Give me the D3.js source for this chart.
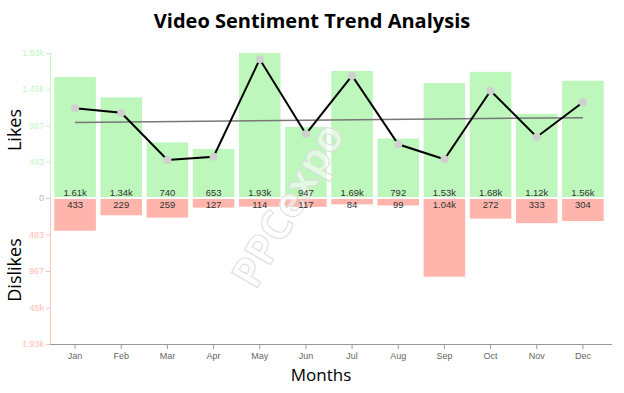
<!DOCTYPE html>
<html><head><meta charset="utf-8">
<script src="https://cdn.jsdelivr.net/npm/d3@7"></script>
<style>body{margin:0;background:#fff}svg{display:block}</style>
</head><body>
<svg id="c" width="624" height="393"></svg>
<script>
const months = ["Jan","Feb","Mar","Apr","May","Jun","Jul","Aug","Sep","Oct","Nov","Dec"];
const likes = [1610,1340,740,653,1930,947,1690,792,1530,1680,1120,1560];
const dislikes = [433,229,259,127,114,117,84,99,1040,272,333,304];
const likeLabels = ["1.61k","1.34k","740","653","1.93k","947","1.69k","792","1.53k","1.68k","1.12k","1.56k"];
const dislikeLabels = ["433","229","259","127","114","117","84","99","1.04k","272","333","304"];
const net = [1194,1135,506,550,1846,852,1628,715,515,1428,812,1274];
const likeTicks = [0,482.5,965,1447.5,1930];
const likeTickLabels = ["0","483","987","1.45k","1.93k"];
const dislikeTicks = [482.5,965,1447.5,1930];
const dislikeTickLabels = ["483","967","45k","1.93k"];

const svg = d3.select("#c");
const x = d3.scaleBand().domain(months).range([52,606]).paddingInner(0.1).paddingOuter(0.05);
const yL = d3.scaleLinear().domain([0,1930]).range([198,53]);
const yD = d3.scaleLinear().domain([0,1930]).range([198,344]);
const font = "'Liberation Sans', Arial, sans-serif";

// bars
svg.append("g").selectAll("rect").data(months).join("rect")
  .attr("x", d=>x(d)).attr("width", x.bandwidth())
  .attr("y", (d,i)=>yL(likes[i])).attr("height",(d,i)=>yL(0)-1-yL(likes[i]))
  .attr("fill","#bdf7bb");
svg.append("g").selectAll("rect").data(months).join("rect")
  .attr("x", d=>x(d)).attr("width", x.bandwidth())
  .attr("y", yD(0)+1).attr("height",(d,i)=>yD(dislikes[i])-yD(0)-1)
  .attr("fill","#ffb5ab");

// watermark
svg.append("text").attr("transform","translate(288,205) rotate(-60)")
  .attr("text-anchor","middle").attr("dy","0.35em").attr("font-family","'Open Sans', sans-serif")
  .attr("font-weight","bold").attr("font-size",42)
  .attr("fill","#fff").attr("fill-opacity",0.55).attr("stroke","#ddd").attr("stroke-width",1).text("PPCexpo");

// bar labels
svg.append("g").selectAll("text").data(months).join("text")
  .attr("x", d=>x(d)+x.bandwidth()/2).attr("y", 196)
  .attr("text-anchor","middle").attr("font-family",font).attr("font-size",9.5).attr("fill","#333")
  .text((d,i)=>likeLabels[i]);
svg.append("g").selectAll("text").data(months).join("text")
  .attr("x", d=>x(d)+x.bandwidth()/2).attr("y", 208)
  .attr("text-anchor","middle").attr("font-family",font).attr("font-size",9.5).attr("fill","#333")
  .text((d,i)=>dislikeLabels[i]);

// left axes
svg.append("line").attr("x1",50.5).attr("x2",50.5).attr("y1",yL(1930)).attr("y2",yL(0)).attr("stroke","#c8f7c6");
svg.append("line").attr("x1",50.5).attr("x2",50.5).attr("y1",yD(0)).attr("y2",yD(1930)).attr("stroke","#ffc4bd");
const lg = svg.append("g");
likeTicks.forEach((t,i)=>{
  lg.append("line").attr("x1",46).attr("x2",50).attr("y1",yL(t)+0.5).attr("y2",yL(t)+0.5).attr("stroke", i===0?"#ccc":"#c8f7c6");
  lg.append("text").attr("x",44).attr("y",yL(t)).attr("dy","0.35em").attr("text-anchor","end")
    .attr("font-family",font).attr("font-size",9).attr("fill", i===0?"#bbb":"#c3f5c1").text(likeTickLabels[i]);
});
dislikeTicks.forEach((t,i)=>{
  lg.append("line").attr("x1",46).attr("x2",50).attr("y1",yD(t)+0.5).attr("y2",yD(t)+0.5).attr("stroke","#ffc4bd");
  lg.append("text").attr("x",44).attr("y",yD(t)).attr("dy","0.35em").attr("text-anchor","end")
    .attr("font-family",font).attr("font-size",9).attr("fill","#ffbcb4").text(dislikeTickLabels[i]);
});

// x axis
svg.append("line").attr("x1",50).attr("x2",612).attr("y1",344.5).attr("y2",344.5).attr("stroke","#999");
const xg = svg.append("g");
months.forEach(m=>{
  const cx = x(m)+x.bandwidth()/2;
  xg.append("line").attr("x1",cx).attr("x2",cx).attr("y1",345).attr("y2",349).attr("stroke","#999");
  xg.append("text").attr("x",cx).attr("y",356).attr("dy","0.35em").attr("text-anchor","middle")
    .attr("font-family",font).attr("font-size",9).attr("fill","#666").text(m);
});

// trend line (least squares of net)
const n = net.length, mx = (n-1)/2, my = d3.mean(net);
let sxy=0,sxx=0; net.forEach((v,i)=>{sxy+=(i-mx)*(v-my);sxx+=(i-mx)*(i-mx);});
const slope = sxy/sxx, icpt = my - slope*mx;
const cx = i=>x(months[i])+x.bandwidth()/2;
svg.append("line").attr("x1",cx(0)).attr("x2",cx(n-1)).attr("y1",yL(icpt)).attr("y2",yL(icpt+slope*(n-1)))
  .attr("stroke","#777").attr("stroke-width",1.5);

// net line
svg.append("path").datum(net).attr("fill","none").attr("stroke","#000").attr("stroke-width",2)
  .attr("d", d3.line().x((d,i)=>cx(i)).y(d=>yL(d)));
svg.append("g").selectAll("circle").data(net).join("circle")
  .attr("cx",(d,i)=>cx(i)).attr("cy",d=>yL(d)).attr("r",4).attr("fill","#d0d0d0");

// titles
svg.append("text").attr("x",312).attr("y",28).attr("text-anchor","middle")
  .attr("font-family","'Open Sans', sans-serif").attr("font-weight","bold").attr("font-size",20).attr("fill","#000")
  .text("Video Sentiment Trend Analysis");
svg.append("text").attr("transform","translate(21,130) rotate(-90)").attr("text-anchor","middle")
  .attr("font-family","'Open Sans', sans-serif").attr("font-size",18).attr("fill","#000").text("Likes");
svg.append("text").attr("transform","translate(21,270) rotate(-90)").attr("text-anchor","middle")
  .attr("font-family","'Open Sans', sans-serif").attr("font-size",18).attr("fill","#000").text("Dislikes");
svg.append("text").attr("x",321).attr("y",381).attr("text-anchor","middle")
  .attr("font-family","'Open Sans', sans-serif").attr("font-size",17).attr("fill","#000").text("Months");
</script>
</body></html>
